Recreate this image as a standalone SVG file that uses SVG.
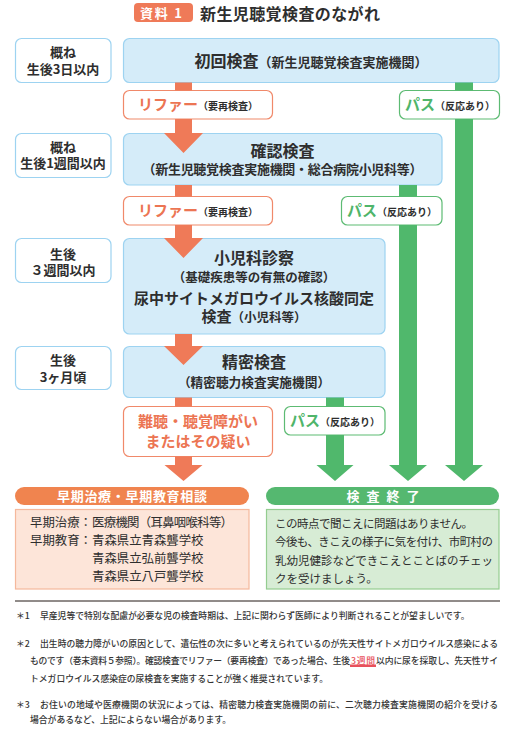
<svg xmlns="http://www.w3.org/2000/svg" width="512" height="731" viewBox="0 0 512 731">
<style>
text{font-family:"Noto Sans CJK JP","Noto Sans CJK SC",sans-serif;fill:#2e2e2e}
.bd{font-weight:700}
.lab{fill:#fff;stroke:#9dd3f1;stroke-width:1.2}
.main{fill:#d5ecf9;stroke:#9dd3f1;stroke-width:1.2}
.ref{fill:#fff;stroke:#f0896a;stroke-width:1.2}
.pass{fill:#fff;stroke:#5dbb73;stroke-width:1.2}
.or{fill:#ef7a58}
.gr{fill:#50b86c}
.ot{fill:#ec7553;font-weight:700}
.gt{fill:#4fb56a;font-weight:700}
.lt{font-size:13px;font-weight:700;text-anchor:middle}
.mid{text-anchor:middle}
.fn{font-size:8.8px;font-weight:500;fill:#333}
.info{font-size:12.4px}
.ginfo{font-size:11.5px}
</style>

<g id="title">
<rect x="134" y="3" width="59" height="19" rx="4" class="or"/>
<text x="140" y="17.5" class="bd" font-size="13" style="fill:#fff" textLength="42">資料 1</text>
<text x="200" y="19.5" class="bd" font-size="16" textLength="180">新生児聴覚検査のながれ</text>
</g>

<g id="label1">
<rect x="15.5" y="38.5" width="95.5" height="44" rx="6" class="lab"/>
<text x="63" y="57" class="lt">概ね</text>
<text x="63" y="73.5" class="lt">生後3日以内</text>
</g>
<g id="exam1">
<rect x="123.5" y="38.5" width="375.5" height="44" rx="6" class="main"/>
<text x="311" y="66.5" class="mid bd"><tspan font-size="16">初回検査</tspan><tspan font-size="13">（新生児聴覚検査実施機関）</tspan></text>
</g>
<g id="refer1">
<rect x="123.5" y="90.5" width="149" height="28.5" rx="6" class="ref"/>
<text x="198" y="110" class="mid"><tspan class="ot" font-size="15">リファー</tspan><tspan font-size="10" class="bd">（要再検査）</tspan></text>
</g>
<g id="pass1">
<rect x="399.5" y="90.5" width="100" height="28.5" rx="6" class="pass"/>
<text x="450" y="110" class="mid"><tspan class="gt" font-size="15">パス</tspan><tspan font-size="10" class="bd">（反応あり）</tspan></text>
</g>

<g id="label2">
<rect x="15.5" y="133.5" width="95.5" height="44" rx="6" class="lab"/>
<text x="63" y="151.5" class="lt">概ね</text>
<text x="63" y="168" class="lt">生後1週間以内</text>
</g>
<g id="exam2">
<rect x="123.5" y="133.5" width="318.5" height="51.5" rx="6" class="main"/>
<text x="282.5" y="157" class="mid bd" font-size="16">確認検査</text>
<text x="282.5" y="174" class="mid bd" font-size="13" textLength="280">（新生児聴覚検査実施機関・総合病院小児科等）</text>
</g>
<g id="refer2">
<rect x="123.5" y="196.5" width="149" height="28.5" rx="6" class="ref"/>
<text x="198" y="216" class="mid"><tspan class="ot" font-size="15">リファー</tspan><tspan font-size="10" class="bd">（要再検査）</tspan></text>
</g>
<g id="pass2">
<rect x="341.5" y="196.5" width="100.5" height="28.5" rx="6" class="pass"/>
<text x="392" y="216" class="mid"><tspan class="gt" font-size="15">パス</tspan><tspan font-size="10" class="bd">（反応あり）</tspan></text>
</g>

<g id="label3">
<rect x="15.5" y="238.5" width="95.5" height="44" rx="6" class="lab"/>
<text x="63" y="258.5" class="lt">生後</text>
<text x="63" y="274.5" class="lt">３週間以内</text>
</g>
<g id="exam3">
<rect x="123.5" y="238.5" width="261.5" height="95.5" rx="6" class="main"/>
<text x="254" y="264" class="mid bd" font-size="16">小児科診察</text>
<text x="254" y="281.5" class="mid bd" font-size="12.5">（基礎疾患等の有無の確認）</text>
<text x="254" y="304" class="mid bd" font-size="15" textLength="240">尿中サイトメガロウイルス核酸同定</text>
<text x="254" y="321.5" class="mid bd"><tspan font-size="15">検査</tspan><tspan font-size="12.5">（小児科等）</tspan></text>
</g>

<g id="label4">
<rect x="15.5" y="346.5" width="95.5" height="43" rx="6" class="lab"/>
<text x="63" y="364.5" class="lt">生後</text>
<text x="63" y="382" class="lt">3ヶ月頃</text>
</g>
<g id="exam4">
<rect x="123.5" y="346.5" width="261.5" height="51" rx="6" class="main"/>
<text x="254" y="368" class="mid bd" font-size="16">精密検査</text>
<text x="254" y="387" class="mid bd" font-size="12.7">（精密聴力検査実施機関）</text>
</g>
<g id="result">
<rect x="123.5" y="406.5" width="149" height="50" rx="6" class="ref"/>
<text x="198" y="427" class="mid ot" font-size="15">難聴・聴覚障がい</text>
<text x="198" y="447" class="mid ot" font-size="15">またはその疑い</text>
</g>
<g id="pass3">
<rect x="284.5" y="406.5" width="100.5" height="28.5" rx="6" class="pass"/>
<text x="335" y="426" class="mid"><tspan class="gt" font-size="15">パス</tspan><tspan font-size="10" class="bd">（反応あり）</tspan></text>
</g>

<g id="early">
<rect x="15" y="487" width="234" height="18" rx="9" fill="#f0844f"/>
<text x="132" y="500.5" class="mid bd" font-size="13" style="fill:#fff" textLength="150">早期治療・早期教育相談</text>
<rect x="15.5" y="509.5" width="233.5" height="79.5" fill="#fde5d9" stroke="#f5b89c" stroke-width="1.2"/>
<text x="30" y="527" class="info">早期治療：</text>
<text x="92" y="527" class="info" textLength="141">医療機関（耳鼻咽喉科等）</text>
<text x="30" y="545" class="info">早期教育：</text>
<text x="92" y="545" class="info">青森県立青森聾学校</text>
<text x="92" y="563" class="info">青森県立弘前聾学校</text>
<text x="92" y="581" class="info">青森県立八戸聾学校</text>
</g>
<g id="end">
<rect x="266" y="487" width="233" height="18" rx="9" fill="#55b870"/>
<text x="383" y="500.5" class="mid bd" font-size="13" style="fill:#fff" textLength="73">検 査 終 了</text>
<rect x="266.5" y="509.5" width="232.5" height="79.5" fill="#d7ecd5" stroke="#94cd90" stroke-width="1.2"/>
<text x="275" y="527.5" class="ginfo" textLength="198">この時点で聞こえに問題はありません。</text>
<text x="275" y="546" class="ginfo" textLength="218">今後も、きこえの様子に気を付け、市町村の</text>
<text x="275" y="564.5" class="ginfo" textLength="218">乳幼児健診などできこえとことばのチェッ</text>
<text x="275" y="582.5" class="ginfo">クを受けましょう。</text>
</g>

<g id="connectors">
<rect x="175" y="82.5" width="17" height="8" class="or"/>
<polygon points="175,119 192,119 192,133 203,133 183.5,153 164,133 175,133" class="or"/>
<rect x="175" y="185" width="17" height="11.5" class="or"/>
<polygon points="175,225 192,225 192,238 203,238 183.5,258 164,238 175,238" class="or"/>
<polygon points="175,334 192,334 192,346 203,346 183.5,365 164,346 175,346" class="or"/>
<rect x="175" y="397.5" width="17" height="9" class="or"/>
<polygon points="175,456.5 192,456.5 192,465 202.5,465 183.5,481 164.5,465 175,465" class="or"/>
<rect x="455" y="82.5" width="18" height="8" class="gr"/>
<polygon points="455,119 473,119 473,465 483,465 464,481 445,465 455,465" class="gr"/>
<rect x="399" y="185" width="18" height="11.5" class="gr"/>
<polygon points="399,225 417,225 417,465 427,465 408,481 389,465 399,465" class="gr"/>
<rect x="326" y="397.5" width="18" height="9" class="gr"/>
<polygon points="326,435 344,435 344,465 353.5,465 335,481 316.5,465 326,465" class="gr"/>
</g>

<g id="notes">
<line x1="15" y1="601" x2="500" y2="601" stroke="#231815" stroke-width="1"/>
<text x="16" y="619" class="fn">＊1</text>
<text x="40" y="619" class="fn">早産児等で特別な配慮が必要な児の検査時期は、上記に関わらず医師により判断されることが望ましいです。</text>
<text x="16" y="646.5" class="fn">＊2</text>
<text x="40" y="646.5" class="fn" textLength="458">出生時の聴力障がいの原因として、遺伝性の次に多いと考えられているのが先天性サイトメガロウイルス感染による</text>
<text x="30" y="663.5" class="fn" textLength="320">ものです（巻末資料５参照）。確認検査でリファー（要再検査）であった場合、生後</text>
<text x="351" y="663.5" class="fn bd" style="fill:#e8505b" textLength="24">3週間</text>
<rect x="350" y="664.5" width="26" height="2.5" fill="#e8505b"/>
<text x="376" y="663.5" class="fn" textLength="122">以内に尿を採取し、先天性サイ</text>
<text x="30" y="682" class="fn">トメガロウイルス感染症の尿検査を実施することが強く推奨されています。</text>
<text x="16" y="707.5" class="fn">＊3</text>
<text x="40" y="707.5" class="fn" textLength="458">お住いの地域や医療機関の状況によっては、精密聴力検査実施機関の前に、二次聴力検査実施機関の紹介を受ける</text>
<text x="30" y="723" class="fn">場合があるなど、上記によらない場合があります。</text>
</g>
</svg>
